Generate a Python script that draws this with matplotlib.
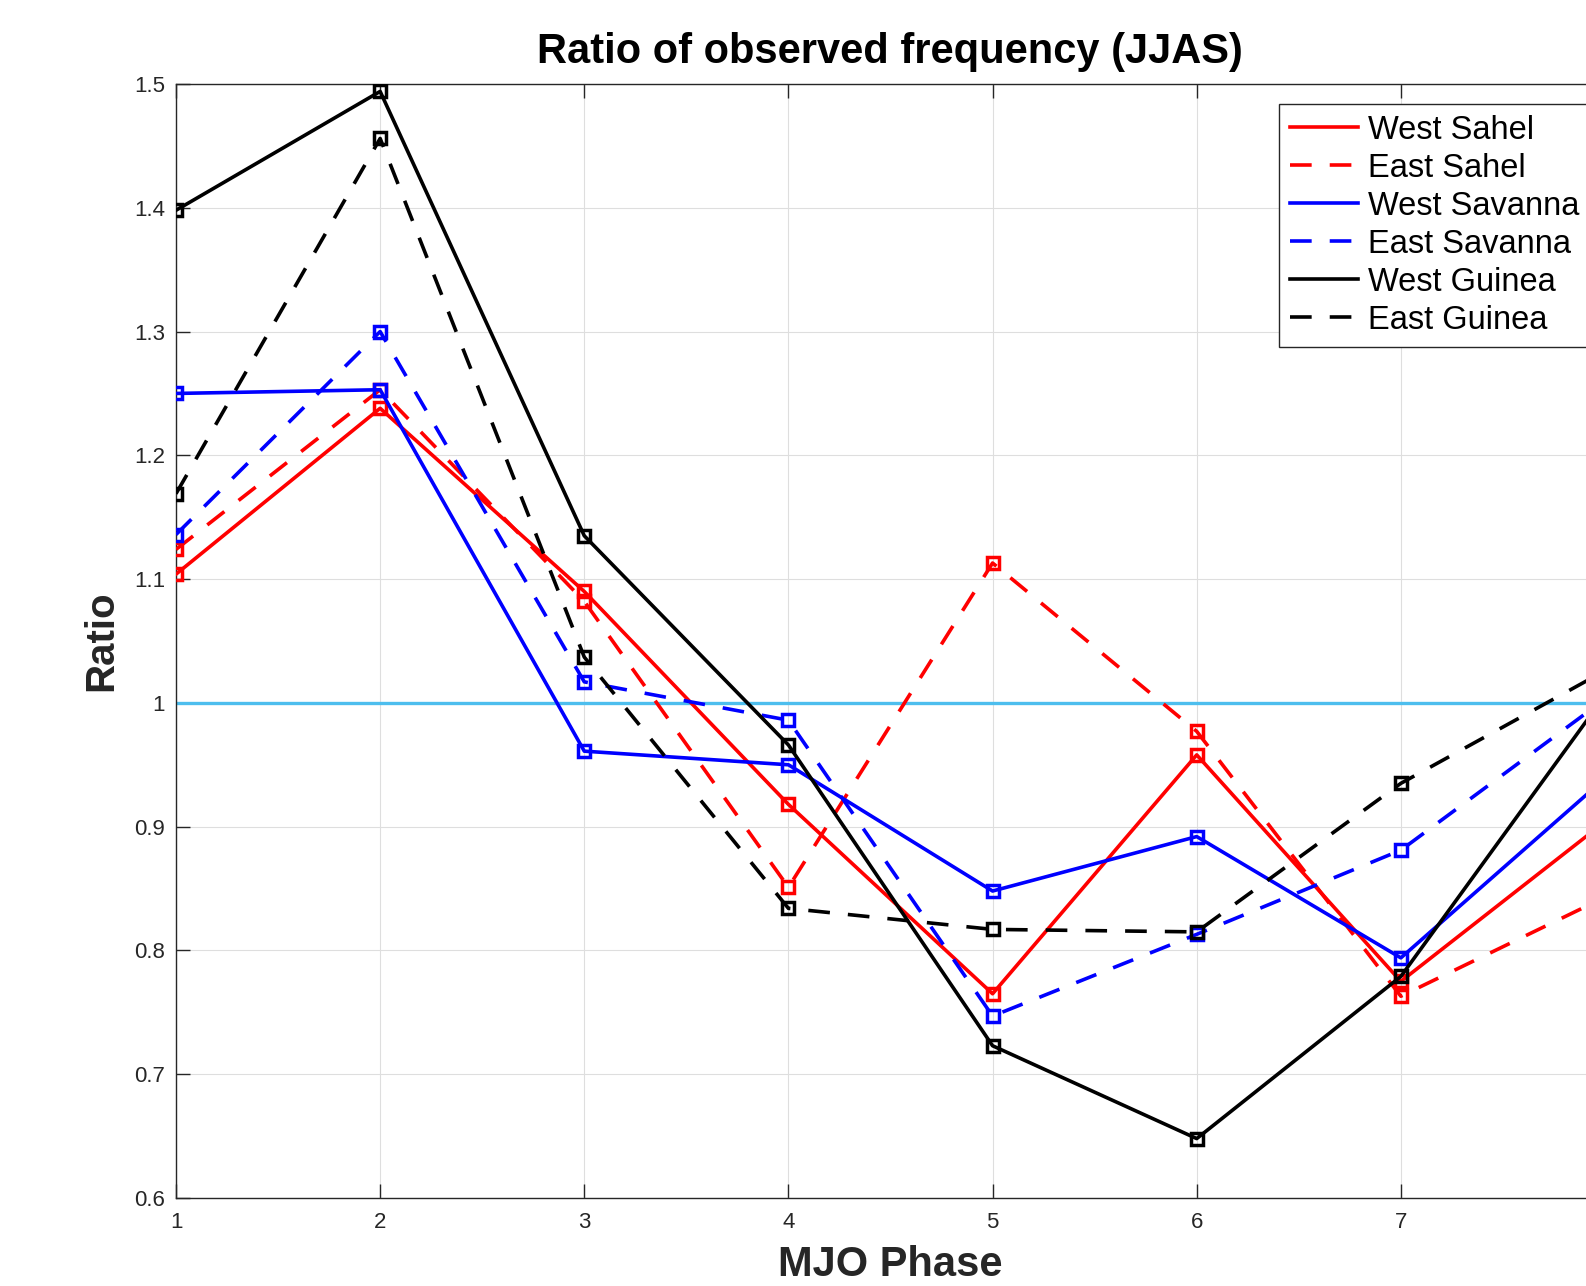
import matplotlib
matplotlib.use("Agg")
import matplotlib.pyplot as plt

# ---- data ----
phases = [1, 2, 3, 4, 5, 6, 7, 8]
west_sahel   = [1.104, 1.238, 1.090, 0.918, 0.765, 0.958, 0.775, 0.904]
east_sahel   = [1.124, 1.253, 1.082, 0.851, 1.113, 0.977, 0.763, 0.843]
west_savanna = [1.250, 1.253, 0.961, 0.950, 0.848, 0.892, 0.794, 0.939]
east_savanna = [1.136, 1.300, 1.017, 0.986, 0.747, 0.813, 0.881, 1.003]
west_guinea  = [1.398, 1.494, 1.135, 0.966, 0.723, 0.648, 0.779, 1.006]
east_guinea  = [1.169, 1.456, 1.037, 0.834, 0.817, 0.815, 0.935, 1.026]
labels = ["West Sahel", "East Sahel", "West Savanna", "East Savanna", "West Guinea", "East Guinea"]
yticks = [0.6, 0.7, 0.8, 0.9, 1.0, 1.1, 1.2, 1.3, 1.4, 1.5]
yticklabels = ["0.6", "0.7", "0.8", "0.9", "1", "1.1", "1.2", "1.3", "1.4", "1.5"]
xticks = [1, 2, 3, 4, 5, 6, 7]
xticklabels = ["1", "2", "3", "4", "5", "6", "7"]
ref_value = 1.0

plt.rcParams['font.family'] = ['Liberation Sans', 'DejaVu Sans']

W, H = 1586, 1286
fig = plt.figure(figsize=(W / 100, H / 100), dpi=100)
left, right, top, bottom = 176, 1605, 84, 1198
ax = fig.add_axes([left / W, 1 - bottom / H, (right - left) / W, (bottom - top) / H])

axc = '#262626'
ax.grid(True, color='#dedede', linewidth=0.8, zorder=0)
ax.set_axisbelow(True)

ax.axhline(ref_value, color='#4DBEEE', linewidth=2.4, zorder=1.5)

series = [west_sahel, east_sahel, west_savanna, east_savanna, west_guinea, east_guinea]
colors = ['red', 'red', 'blue', 'blue', 'black', 'black']
styles = ['solid', 'dashed', 'solid', 'dashed', 'solid', 'dashed']
for vals, c, s, lab in zip(series, colors, styles, labels):
    kw = dict(color=c, linewidth=2.6, marker='s', markersize=8, markerfacecolor='none',
              markeredgecolor=c, markeredgewidth=2.5, label=lab, zorder=3)
    if s == 'dashed':
        ax.plot(phases, vals, linestyle=(0, (6.0, 5.0)), **kw)
    else:
        ax.plot(phases, vals, linestyle='-', **kw)

ax.set_xlim(1, 8)
ax.set_ylim(0.6, 1.5)
ax.set_xticks(xticks)
ax.set_xticklabels(xticklabels)
ax.set_yticks(yticks)
ax.set_yticklabels(yticklabels)
ax.tick_params(direction='in', length=10, width=1, colors=axc, labelsize=16,
               top=True, right=True)
ax.tick_params(axis='x', pad=10)
ax.tick_params(axis='y', pad=8)
for sp in ax.spines.values():
    sp.set_color(axc)
    sp.set_linewidth(1.0)

fig.text(890 / W, 1 - 63 / H, "Ratio of observed frequency (JJAS)", ha='center', va='baseline',
         fontsize=30, fontweight='bold', color='black')
fig.text(890 / W, 1 - 1276 / H, "MJO Phase", ha='center', va='baseline',
         fontsize=30, fontweight='bold', color=axc)
fig.text(101 / W, 1 - 641 / H, "Ratio", ha='center', va='center', rotation=90,
         fontsize=29, fontweight='bold', color=axc)

leg = ax.legend(loc='upper left', bbox_to_anchor=(1279 / W, 1 - 104 / H),
                bbox_transform=fig.transFigure, fontsize=23.5, frameon=True, fancybox=False,
                framealpha=1, edgecolor=axc, borderpad=0.33, labelspacing=0.215,
                handlelength=2.1, handletextpad=0.3, borderaxespad=0)
leg.get_frame().set_linewidth(1.0)
for h in leg.get_lines():
    h.set_marker('')

fig.savefig('out.png', dpi=100)
